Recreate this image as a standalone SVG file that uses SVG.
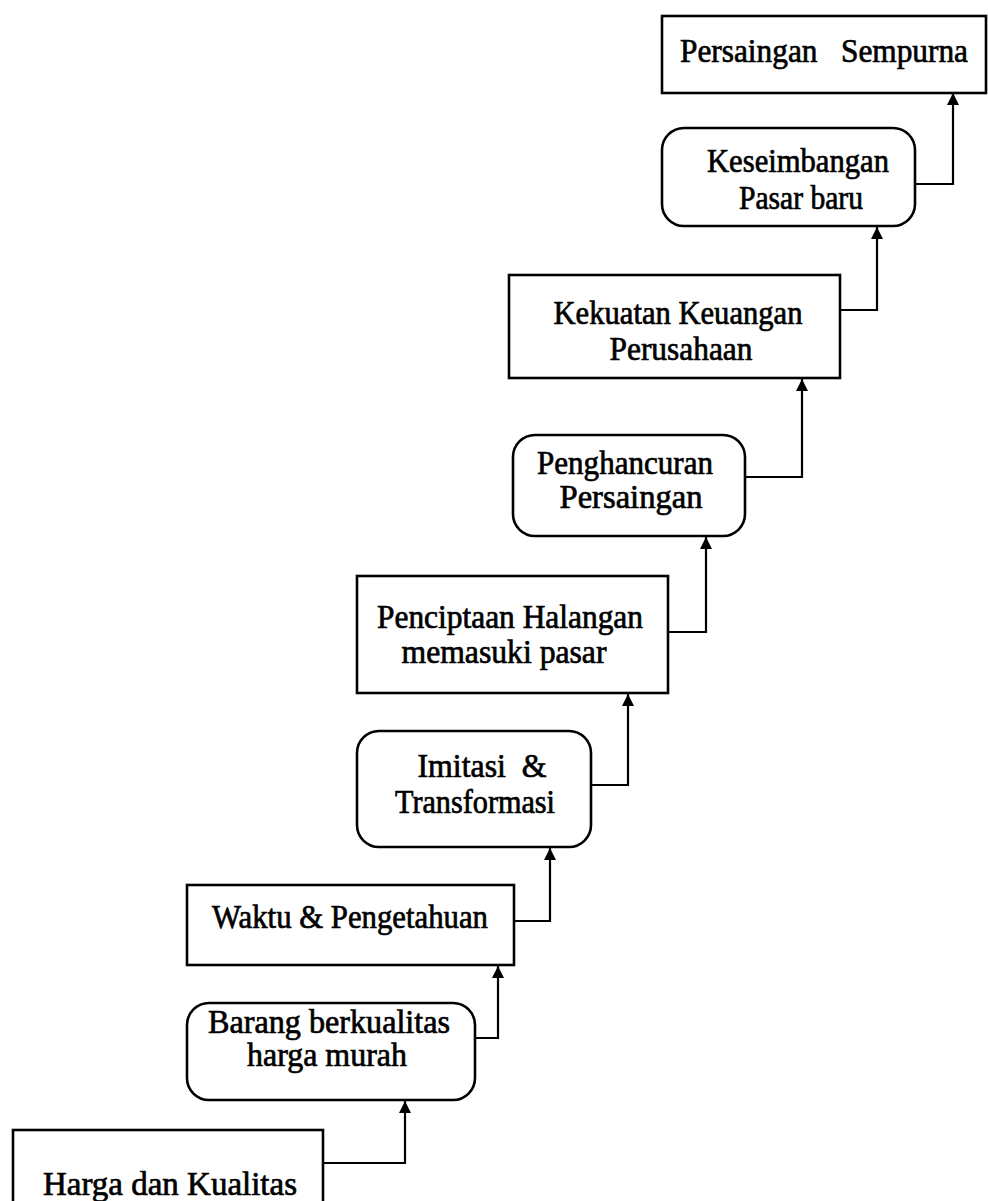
<svg xmlns="http://www.w3.org/2000/svg" width="988" height="1201" viewBox="0 0 988 1201">
  <style>
    .box { fill: #ffffff; stroke: #000000; stroke-width: 2.6; }
    .lbl { font-family: "Liberation Serif", "Times New Roman", serif; font-size: 33px; fill: #000000; text-anchor: middle; stroke: #000000; stroke-width: 0.7; }
    .link { fill: none; stroke: #000000; stroke-width: 2.2; marker-end: url(#head); }
  </style>
  <defs>
    <!-- filled triangular arrowhead; tip sits on the line end -->
    <marker id="head" markerUnits="userSpaceOnUse" markerWidth="14" markerHeight="14" viewBox="0 0 14 14" refX="13" refY="7" orient="auto">
      <path d="M1,1 L13,7 L1,13 Z" fill="#000000"/>
    </marker>
  </defs>
  <rect width="988" height="1201" fill="#ffffff"/>

  <g id="connectors">
    <path class="link" d="M323,1163 H405 V1101"/>
    <path class="link" d="M475,1038 H498 V966"/>
    <path class="link" d="M514,921 H550 V848"/>
    <path class="link" d="M591,785 H628 V694"/>
    <path class="link" d="M668,632 H706 V537"/>
    <path class="link" d="M745,477 H802 V379"/>
    <path class="link" d="M840,310 H877 V227"/>
    <path class="link" d="M915,184 H953 V93"/>
  </g>

  <g id="node-harga-kualitas">
    <rect class="box" x="13" y="1130" width="310" height="90"/>
    <text class="lbl" x="170" y="1195" textLength="254" lengthAdjust="spacingAndGlyphs">Harga dan Kualitas</text>
  </g>

  <g id="node-barang-berkualitas">
    <rect class="box" x="187" y="1003" width="288" height="97" rx="22"/>
    <text class="lbl" x="329" y="1033" textLength="242" lengthAdjust="spacingAndGlyphs">Barang berkualitas</text>
    <text class="lbl" x="327" y="1066" textLength="160" lengthAdjust="spacingAndGlyphs">harga murah</text>
  </g>

  <g id="node-waktu-pengetahuan">
    <rect class="box" x="187" y="885" width="327" height="80"/>
    <text class="lbl" x="350" y="928" textLength="276" lengthAdjust="spacingAndGlyphs">Waktu &amp; Pengetahuan</text>
  </g>

  <g id="node-imitasi-transformasi">
    <rect class="box" x="357" y="731" width="234" height="116" rx="22"/>
    <text class="lbl" x="482" y="777" textLength="129" lengthAdjust="spacingAndGlyphs" xml:space="preserve">Imitasi  &amp;</text>
    <text class="lbl" x="475" y="813" textLength="160" lengthAdjust="spacingAndGlyphs">Transformasi</text>
  </g>

  <g id="node-penciptaan-halangan">
    <rect class="box" x="357" y="576" width="311" height="117"/>
    <text class="lbl" x="510" y="628" textLength="266" lengthAdjust="spacingAndGlyphs">Penciptaan Halangan</text>
    <text class="lbl" x="504" y="663" textLength="205" lengthAdjust="spacingAndGlyphs">memasuki pasar</text>
  </g>

  <g id="node-penghancuran-persaingan">
    <rect class="box" x="513" y="435" width="232" height="101" rx="22"/>
    <text class="lbl" x="625" y="474" textLength="176" lengthAdjust="spacingAndGlyphs">Penghancuran</text>
    <text class="lbl" x="631" y="508" textLength="143" lengthAdjust="spacingAndGlyphs">Persaingan</text>
  </g>

  <g id="node-kekuatan-keuangan">
    <rect class="box" x="509" y="275" width="331" height="103"/>
    <text class="lbl" x="678" y="324" textLength="249" lengthAdjust="spacingAndGlyphs">Kekuatan Keuangan</text>
    <text class="lbl" x="681" y="360" textLength="143" lengthAdjust="spacingAndGlyphs">Perusahaan</text>
  </g>

  <g id="node-keseimbangan-pasar">
    <rect class="box" x="662" y="128" width="253" height="98" rx="22"/>
    <text class="lbl" x="798" y="172" textLength="182" lengthAdjust="spacingAndGlyphs">Keseimbangan</text>
    <text class="lbl" x="801" y="209" textLength="124" lengthAdjust="spacingAndGlyphs">Pasar baru</text>
  </g>

  <g id="node-persaingan-sempurna">
    <rect class="box" x="662" y="16" width="324" height="77"/>
    <text class="lbl" x="824" y="62" textLength="288" lengthAdjust="spacingAndGlyphs" xml:space="preserve">Persaingan   Sempurna</text>
  </g>
</svg>
